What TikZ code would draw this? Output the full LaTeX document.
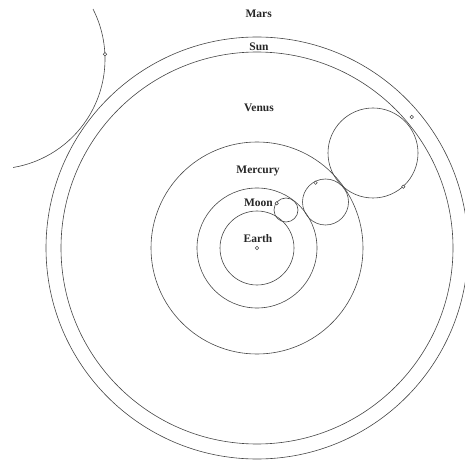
\documentclass[tikz,border=0pt]{standalone}
\usepackage{fontspec}
\setmainfont{Liberation Serif}
\usepackage{tikz}
\usetikzlibrary{positioning}
\colorlet{astline}{black!72}
\colorlet{asttext}{black!85}
\tikzset{
  astorbit/.style={draw=astline,line width=0.6pt},
  astepi/.style={draw=astline,line width=0.6pt},
  astdot/.style={circle,draw=astline,fill=white,line width=0.5pt,
                 minimum size=3.4pt,inner sep=0pt},
  astlabel/.style={font=\fontsize{11.5}{13}\selectfont\bfseries,text=asttext,
                   inner sep=1pt}
}
\begin{document}
\begin{tikzpicture}[x=1pt,y=1pt]
  \useasboundingbox (-257,-212) rectangle (208,248);
  \clip (-257,-212) rectangle (208,248);

  % deferents round the earth
  \coordinate (earth) at (0,0);
  \foreach \r in {37,60,106,196,211}{
    \draw[astorbit] (earth) circle[radius=\r];
  }

  % epicycles
  \coordinate (moonc) at (29,38);
  \coordinate (mercc) at (68.5,46);
  \coordinate (venc) at (116,95);
  \coordinate (marsc) at (-262,189);
  \draw[astepi] (moonc) circle[radius=12];
  \draw[astepi] (mercc) circle[radius=23];
  \draw[astepi] (venc) circle[radius=45];
  \draw[astepi] (marsc) ++(27:110) arc[start angle=27,end angle=-80.5,radius=110];

  % bodies
  \node[astdot] (earthdot) at (earth) {};
  \node[astdot] (moondot) at (19.7,44.7) {};
  \node[astdot] (mercdot) at (58.5,65.3) {};
  \node[astdot] (vendot) at (146.3,61.3) {};
  \node[astdot] (sundot) at (154.7,131) {};
  \node[astdot] (marsdot) at (-152,193.7) {};

  % names
  \node[astlabel] (marslbl) at (1.7,234.7) {Mars};
  \node[astlabel] (sunlbl) at (2,201.3) {Sun};
  \node[astlabel] (venlbl) at (2,140) {Venus};
  \node[astlabel] (merclbl) at (1,77) {Mercury};
  \node[astlabel] (moonlbl) at (1.5,45) {Moon};
  \node[astlabel] (earthlbl) at (1,9.7) {Earth};
\end{tikzpicture}
\end{document}
